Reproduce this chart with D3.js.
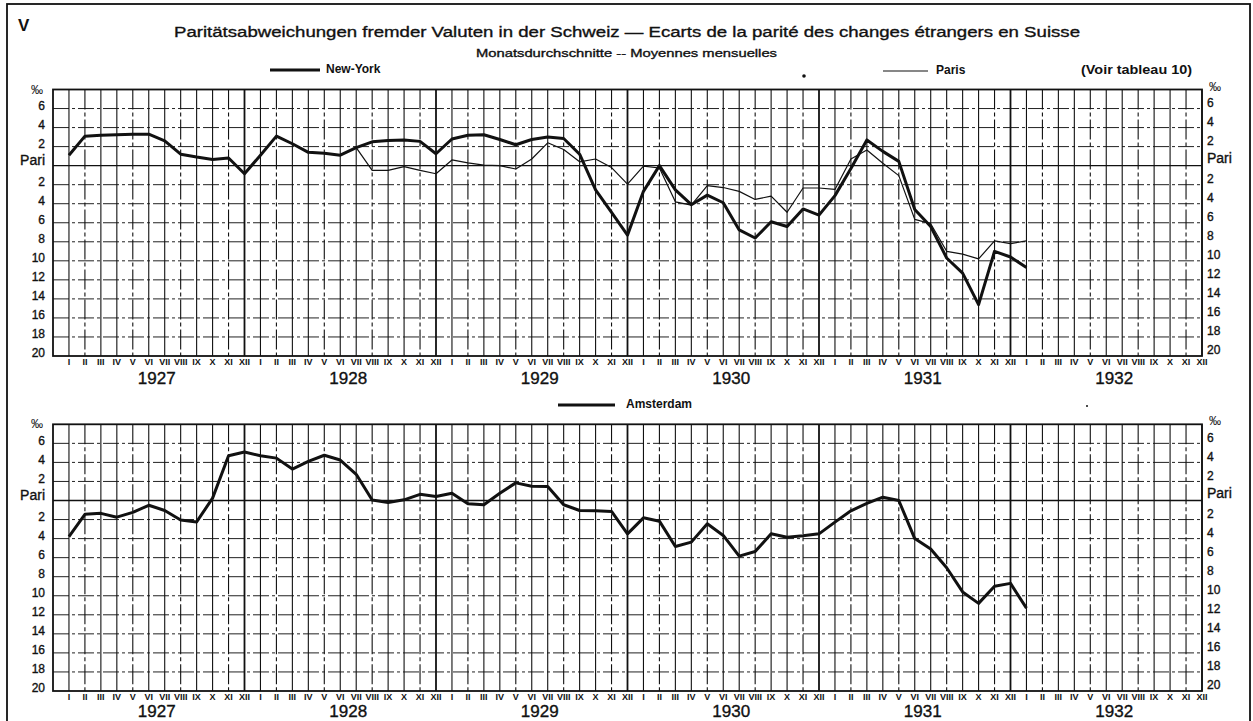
<!DOCTYPE html>
<html>
<head>
<meta charset="utf-8">
<script src="https://cdn.jsdelivr.net/npm/d3@7"></script>
<style>
  html, body { margin: 0; padding: 0; background: #fff; }
  svg { display: block; }
  text { font-family: "Liberation Sans", Arial, sans-serif; fill: #111; }
  text.thick { stroke: #111; stroke-width: 0.35; }
</style>
</head>
<body>
<svg id="chart" width="1253" height="721"></svg>
<script>
// ---------- data ----------
const monthLabels = ["I","II","III","IV","V","VI","VII","VIII","IX","X","XI","XII"];
const years = [1927, 1928, 1929, 1930, 1931, 1932];
const yTickValues = [6, 4, 2, 0, -2, -4, -6, -8, -10, -12, -14, -16, -18, -20];

// deviation from parity in per mille (positive = above parity), monthly from Jan 1927
const newYork = [
  1.1, 3.1, 3.2, 3.25, 3.3, 3.3, 2.6, 1.2, 0.9, 0.65, 0.8, -0.85,
  1.1, 3.1, 2.3, 1.4, 1.3, 1.1, 1.9, 2.5, 2.65, 2.7, 2.55, 1.25,
  2.8, 3.2, 3.25, 2.75, 2.2, 2.75, 3.0, 2.85, 1.2, -2.55, -4.9, -7.3,
  -2.7, 0.0, -2.55, -4.1, -3.1, -3.9, -6.75, -7.6, -5.9, -6.4, -4.55, -5.2,
  -3.15, -0.3, 2.7, 1.5, 0.45, -4.6, -6.4, -9.7, -11.3, -14.6, -9.0, -9.6,
  -10.7
];
// Paris starts July 1928 (month index 18)
const parisStart = 18;
const paris = [
  1.9, -0.5, -0.5, -0.1, -0.5, -0.85,
  0.6, 0.3, 0.05, 0.0, -0.35, 0.7, 2.4, 1.7, 0.4, 0.7, -0.2, -1.95,
  -0.05, -0.25, -3.8, -4.15, -2.1, -2.3, -2.7, -3.55, -3.2, -4.9, -2.35, -2.35,
  -2.5, 0.7, 1.65, 0.25, -1.05, -5.65, -6.1, -9.0, -9.3, -9.8, -7.9, -8.2,
  -7.9
];
const amsterdam = [
  -3.8, -1.45, -1.35, -1.75, -1.25, -0.5, -1.05, -2.05, -2.25, 0.25, 4.7, 5.1,
  4.7, 4.45, 3.3, 4.1, 4.75, 4.25, 2.75, 0.05, -0.2, 0.07, 0.65, 0.42,
  0.77, -0.35, -0.45, 0.77, 1.85, 1.5, 1.47, -0.45, -1.05, -1.08, -1.15, -3.5,
  -1.82, -2.17, -4.83, -4.37, -2.45, -3.67, -5.84, -5.35, -3.5, -3.85, -3.7, -3.5,
  -2.27, -1.08, -0.3, 0.35, 0.0, -4.0, -5.1, -7.06, -9.6, -10.8, -9.0, -8.7,
  -11.3
];

// ---------- drawing ----------
const svg = d3.select("#chart");

// outer frame of the plate
svg.append("rect").attr("x", 7).attr("y", 4).attr("width", 1243).attr("height", 730)
  .attr("fill", "none").attr("stroke", "#111").attr("stroke-width", 1.8);

svg.append("text").attr("x", 18).attr("y", 31).attr("font-size", 17).attr("font-weight", "bold").text("V");

svg.append("text").attr("class", "thick").attr("x", 174).attr("y", 37).attr("font-size", 15.5)
  .attr("textLength", 906).attr("lengthAdjust", "spacingAndGlyphs")
  .text("Paritätsabweichungen fremder Valuten in der Schweiz — Ecarts de la parité des changes étrangers en Suisse");

svg.append("text").attr("class", "thick").attr("x", 476).attr("y", 57).attr("font-size", 11.5)
  .attr("textLength", 301).attr("lengthAdjust", "spacingAndGlyphs")
  .text("Monatsdurchschnitte -- Moyennes mensuelles");

const x = d3.scaleLinear().domain([-1, 71]).range([53, 1202]);
const nMonths = 72;

function drawPanel(top, bottom, series, monthY, yearY) {
  const y = d3.scaleLinear().domain([-20, 8]).range([bottom, top]);
  const g = svg.append("g");

  // horizontal grid
  g.selectAll("line.h").data(yTickValues.filter(v => v !== -20 && v !== 0)).join("line")
    .attr("x1", x(-1)).attr("x2", x(71))
    .attr("y1", d => y(d)).attr("y2", d => y(d))
    .attr("stroke", "#222").attr("stroke-width", 1)
    .attr("stroke-dasharray", "16,3,3,3");

  // vertical month grid
  const mIdx = d3.range(0, nMonths);
  g.selectAll("line.v").data(mIdx).join("line")
    .attr("x1", d => x(d)).attr("x2", d => x(d))
    .attr("y1", y(8)).attr("y2", y(-20))
    .attr("stroke", "#111")
    .attr("stroke-width", d => (d % 12 === 11 && d < 71) ? 1.8 : 1.1)
    .attr("stroke-dasharray", d => (d % 3 === 1) ? "20,3,4,3" : null);

  // parity line
  g.append("line").attr("x1", x(-1)).attr("x2", x(71)).attr("y1", y(0)).attr("y2", y(0))
    .attr("stroke", "#111").attr("stroke-width", 1.4);

  // frame
  g.append("rect").attr("x", x(-1)).attr("y", y(8))
    .attr("width", x(71) - x(-1)).attr("height", y(-20) - y(8))
    .attr("fill", "none").attr("stroke", "#111").attr("stroke-width", 1.8);

  // y labels
  const lbl = d => d === 0 ? "Pari" : String(Math.abs(d));
  g.selectAll("text.yl").data(yTickValues).join("text").attr("class", "thick")
    .attr("x", 45).attr("y", d => y(d) - (d === 0 ? 4 : 2))
    .attr("text-anchor", "end").attr("dominant-baseline", "middle")
    .attr("font-size", d => d === 0 ? 14 : 12)
    .text(lbl);
  g.selectAll("text.yr").data(yTickValues).join("text").attr("class", "thick")
    .attr("x", 1207).attr("y", d => y(d) - (d === 0 ? 6 : 5))
    .attr("text-anchor", "start").attr("dominant-baseline", "middle")
    .attr("font-size", d => d === 0 ? 14 : 12)
    .text(lbl);
  g.append("text").attr("x", 37).attr("y", y(8) + 1).attr("text-anchor", "middle")
    .attr("dominant-baseline", "middle").attr("font-size", 12).text("‰");
  g.append("text").attr("x", 1215).attr("y", y(8) - 2).attr("text-anchor", "middle")
    .attr("dominant-baseline", "middle").attr("font-size", 12).text("‰");

  // month labels
  g.selectAll("text.m").data(mIdx).join("text")
    .attr("x", d => x(d)).attr("y", monthY)
    .attr("text-anchor", "middle").attr("dominant-baseline", "middle")
    .attr("font-size", 9).attr("font-weight", "bold")
    .text(d => monthLabels[d % 12]);
  // year labels
  g.selectAll("text.yrl").data(years).join("text").attr("class", "thick")
    .attr("x", (d, i) => (x(i * 12) + x(i * 12 + 11)) / 2).attr("y", yearY)
    .attr("text-anchor", "middle").attr("dominant-baseline", "middle")
    .attr("font-size", 17)
    .text(d => d);

  // series
  const line = d3.line().x(d => x(d.m)).y(d => y(d.v));
  series.forEach(s => {
    const pts = s.values.map((v, i) => ({ m: i + s.start, v }));
    g.append("path").datum(pts).attr("d", line)
      .attr("fill", "none").attr("stroke", "#111")
      .attr("stroke-width", s.width).attr("stroke-linejoin", "round");
  });
  return y;
}

drawPanel(89.5, 356, [
  { values: newYork, start: 0, width: 3 },
  { values: paris, start: parisStart, width: 1.2 }
], 363, 380);

drawPanel(424.3, 691, [
  { values: amsterdam, start: 0, width: 3 }
], 698, 713);

// legends
function legend(x1, x2, yy, w, label, tx, fs) {
  svg.append("line").attr("x1", x1).attr("x2", x2).attr("y1", yy).attr("y2", yy)
    .attr("stroke", "#111").attr("stroke-width", w);
  svg.append("text").attr("x", tx).attr("y", yy).attr("dominant-baseline", "middle")
    .attr("font-size", fs).attr("font-weight", "bold").text(label);
}
legend(270, 320, 70, 3, "New-York", 326, 12);
legend(883, 928, 71, 1.2, "Paris", 936, 12);
svg.append("text").attr("x", 1081).attr("y", 71).attr("dominant-baseline", "middle")
  .attr("font-size", 12).attr("font-weight", "bold")
  .attr("textLength", 111).attr("lengthAdjust", "spacingAndGlyphs").text("(Voir tableau 10)");
legend(558, 615, 405, 3, "Amsterdam", 626, 12);

// stray print dots
svg.append("circle").attr("cx", 804).attr("cy", 76).attr("r", 1.8).attr("fill", "#111");
svg.append("circle").attr("cx", 1087).attr("cy", 406).attr("r", 1).attr("fill", "#111");
</script>
</body>
</html>
